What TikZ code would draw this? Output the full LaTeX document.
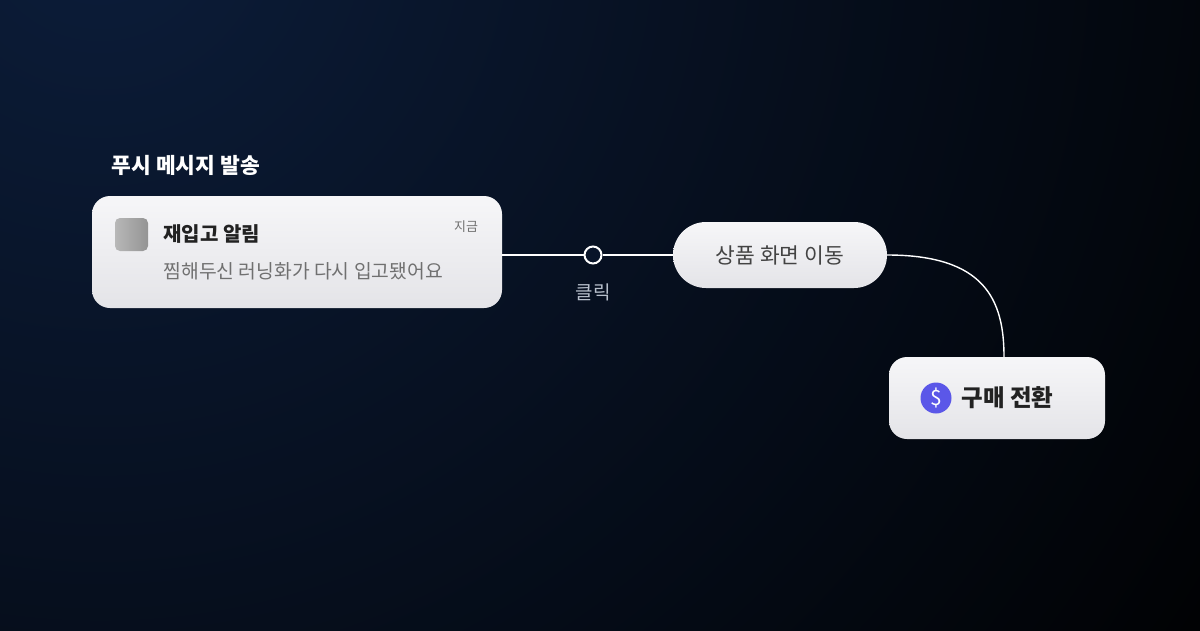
\documentclass[tikz,border=0pt]{standalone}
\usepackage{fontspec}
\setmainfont{Noto Sans CJK KR}
\newfontfamily\kr{Noto Sans CJK KR}
\usetikzlibrary{calc}
\definecolor{bgA}{HTML}{0C1D3A}
\definecolor{bgB}{HTML}{000000}
\definecolor{cardA}{HTML}{F6F6F8}
\definecolor{cardB}{HTML}{E4E4E8}
\definecolor{txtD}{HTML}{222222}
\definecolor{txtG}{HTML}{707070}
\definecolor{lbl}{HTML}{B8C0CC}
\definecolor{usd}{HTML}{5B57E8}
\tikzset{
 card/.style={rounded corners=18pt, top color=cardA, bottom color=cardB, draw=none},
 wire/.style={draw=white, line width=1.4pt},
}
\begin{document}
\begin{tikzpicture}[x=1pt,y=-1pt]
\fill[bgB] (0,0) rectangle (1200,630);
\begin{scope}
\clip (0,0) rectangle (1200,630);
\shade[inner color=bgA, outer color=bgB] (100,-80) circle (1400);
\end{scope}
\useasboundingbox (0,0) rectangle (1200,630);
\node[anchor=west, text=white, font=\kr\bfseries\fontsize{21.5}{24}\selectfont] (head) at (108,165) {푸시 메시지 발송};
% card
\path[card] (92,196) rectangle (502,308);
\coordinate (cardR) at (502,255);
\node[minimum size=33pt, inner sep=0, rounded corners=5pt, left color=black!28, right color=black!42] (icon) at (131.5,234.5) {};
\node[anchor=west, text=txtD, font=\kr\bfseries\fontsize{20}{23}\selectfont] (title) at (160,234) {재입고 알림};
\node[anchor=west, text=txtG, font=\kr\fontsize{19.3}{22}\selectfont] (sub) at (160,271) {찜해두신 러닝화가 다시 입고됐어요};
\node[text=txtG, font=\kr\fontsize{13}{15}\selectfont] (now) at (466,227) {지금};
% click circle
\node[circle, draw=white, line width=2pt, fill=bgA!70!black, minimum size=17pt, inner sep=0] (click) at (593,255) {};
\node[text=lbl, font=\kr\fontsize{19}{22}\selectfont] (clicklbl) at (593,292) {클릭};
% pill
\node[rounded corners=33pt, top color=cardA, bottom color=cardB, minimum width=214pt, minimum height=66pt, text=txtD!85, font=\kr\fontsize{21.5}{24}\selectfont] (move) at (780,255) {상품 화면 이동};
% buy
\node[rounded corners=18pt, top color=cardA, bottom color=cardB, minimum width=216pt, minimum height=82pt] (buy) at (997,398) {};
\node[circle, fill=usd, minimum size=31pt, inner sep=0, text=white, font=\kr\fontsize{21}{23}\selectfont] (usdc) at (936,398) {\$};
\node[anchor=west, text=txtD, font=\kr\bfseries\fontsize{23.5}{26}\selectfont] (buyt) at (958,398) {구매 전환};
% wires
\draw[wire] (cardR) -- (click.west);
\draw[wire] (click.east) -- (move.west);
\draw[wire] (move.east) .. controls (985,255) and (1004,300) .. (buy.north -| 1004,0);
\end{tikzpicture}
\end{document}
